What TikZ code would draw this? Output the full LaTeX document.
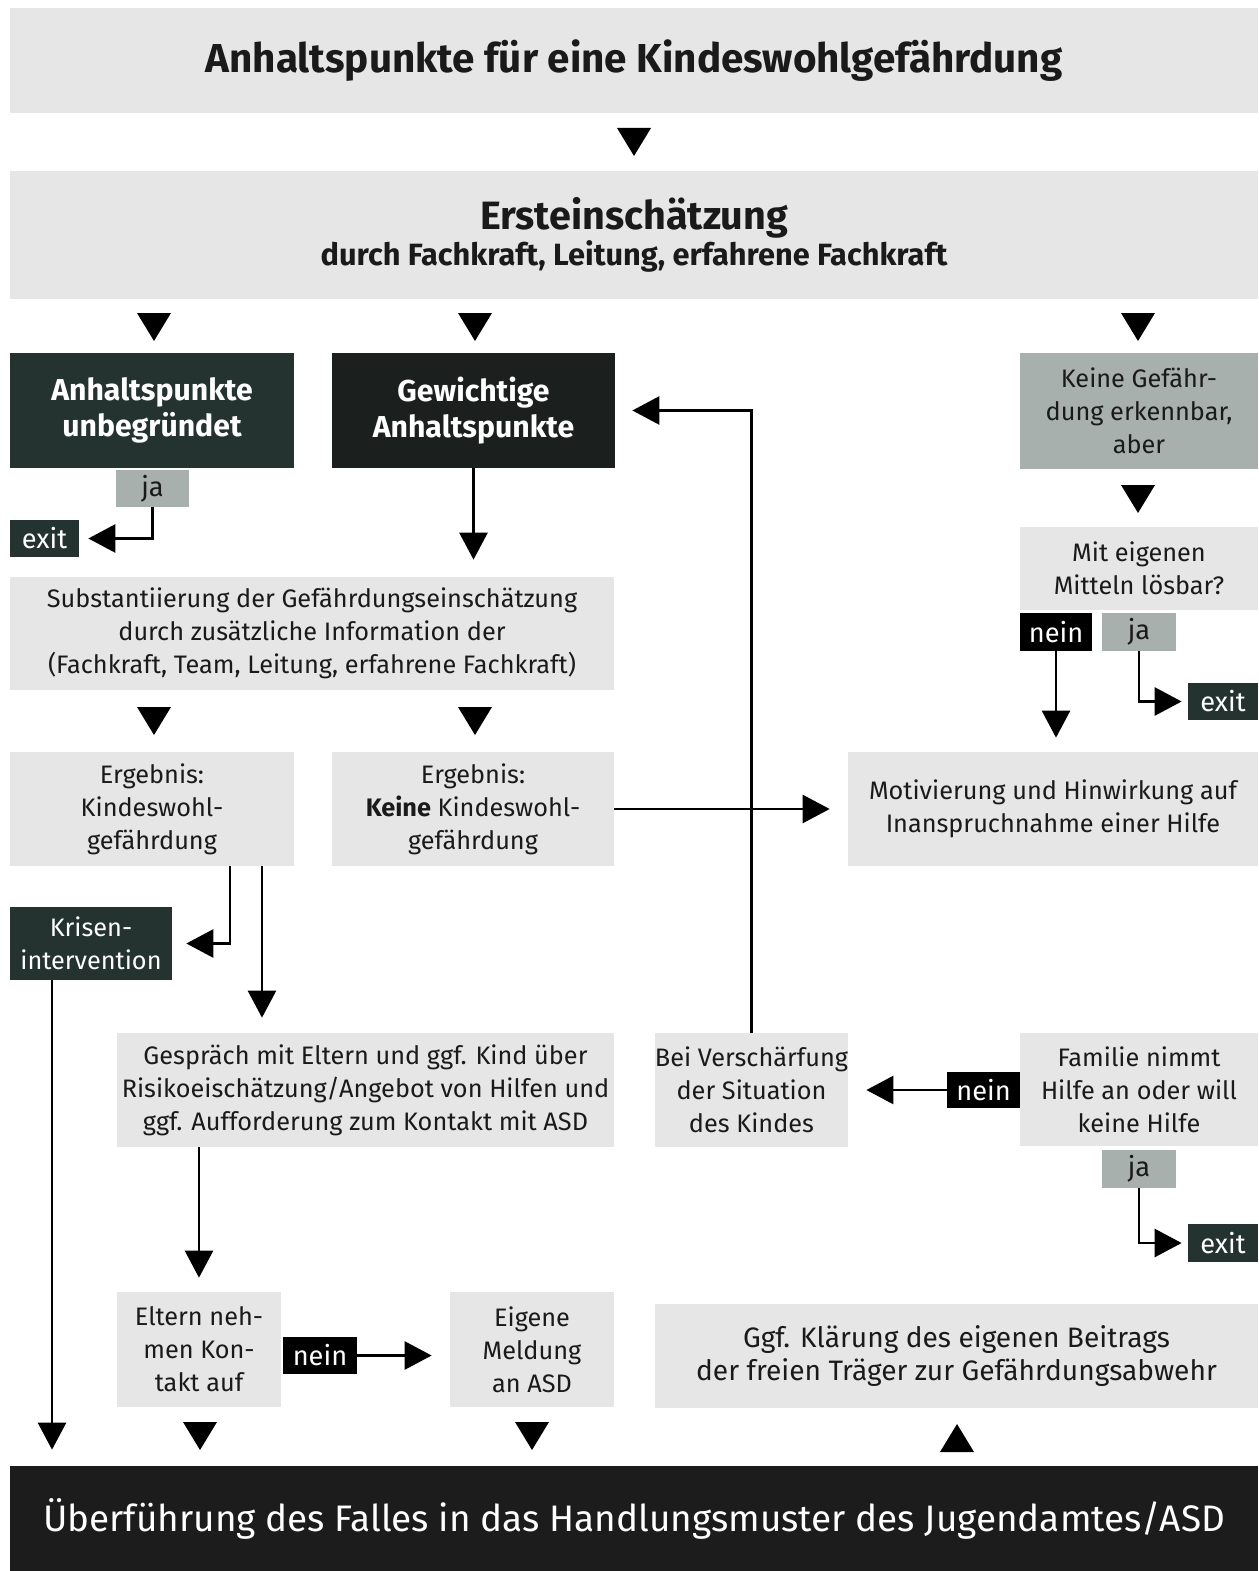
\documentclass[tikz,border=0pt]{standalone}
\usepackage{fontspec}
\setmainfont{Fira Sans}
\usetikzlibrary{arrows.meta}
\definecolor{lite}{HTML}{E6E6E6}
\definecolor{midgray}{HTML}{A8B0AD}
\definecolor{dgreen}{HTML}{24332F}
\definecolor{nearblack}{HTML}{1B1F1E}
\definecolor{txt}{HTML}{1A1A1A}
\newcommand{\bodyfont}{\fontsize{14.4}{18.7}\selectfont}
\newcommand{\headfont}{\bfseries\fontsize{17.2}{20.4}\selectfont}
\newcommand{\tagfont}{\fontsize{15.5}{17}\selectfont}
\def\downtri(#1,#2){\fill[black] (#1-17,#2) -- (#1+17,#2) -- (#1,#2+28) -- cycle;}
\def\uptri(#1,#2){\fill[black] (#1-17,#2+28) -- (#1+17,#2+28) -- (#1,#2) -- cycle;}
\tikzset{
	sz/.style 2 args={minimum width=#1*0.02cm, minimum height=#2*0.02cm, inner sep=0pt, align=center},
	litebox/.style={fill=lite, text=txt, font=\bodyfont},
	greybox/.style={fill=midgray, text=txt, font=\bodyfont},
	darkbox/.style={fill=dgreen, text=white, font=\headfont},
	tagdark/.style={fill=black, text=white, font=\tagfont},
	tagexit/.style={fill=dgreen, text=white, font=\tagfont},
	taggrey/.style={fill=midgray, text=txt, font=\tagfont},
	arr/.style={line width=1.5pt, -{Triangle[width=0.56cm,length=0.54cm]}}
}

\begin{document}
\begin{tikzpicture}[x=0.02cm,y=-0.02cm]
		%%%%% START %%%%%
		\useasboundingbox[fill=white] (0,0) rectangle (1258,1571);
		
		\node[sz={1248}{105}, fill=lite, text=txt, font=\bfseries\fontsize{23}{27}\selectfont] (anhalt) at (634,60.5) {Anhaltspunkte für eine Kindeswohlgefährdung};
		\downtri(634,128)
		
		\node[sz={1248}{127}, fill=lite, text=txt] (erst) at (634,235) {\bfseries\fontsize{22.5}{28}\selectfont Ersteinschätzung\\\bfseries\fontsize{17.5}{22}\selectfont durch Fachkraft, Leitung, erfahrene Fachkraft};
		\downtri(154,313)
		\downtri(475,313)
		\downtri(1138,313)
		
		\node[sz={284}{115}, darkbox] (unbeg) at (152,410.5) {Anhaltspunkte\\unbegründet};
		\node[sz={283}{115}, darkbox, fill=nearblack] (gewicht) at (473.5,410.5) {Gewichtige\\Anhaltspunkte};
		\node[sz={238}{116}, greybox] (keine) at (1139,411) {Keine Gefähr-\\dung erkennbar,\\aber};
		
		\node[sz={73}{37}, taggrey] (ja1) at (152.5,488.5) {ja};
		\node[sz={69}{37}, tagexit] (exit1) at (44.5,538.5) {exit};
		\draw[arr, shorten >=0.18cm] (ja1.south) |- (exit1.east);
		
		\downtri(1138,485)
		\node[sz={238}{83}, litebox] (mittel) at (1139,568.5) {Mit eigenen\\Mitteln lösbar?};
		\node[sz={72}{38}, tagdark] (nein1) at (1056,632) {nein};
		\node[sz={74}{38}, taggrey] (ja2) at (1139,632) {ja};
		\node[sz={70}{37}, tagexit] (exit2) at (1223,701.5) {exit};
		\draw[arr, shorten >=0.12cm] (ja2.south) |- (exit2.west);
		
		\node[sz={604}{113}, litebox] (subst) at (312,633.5) {Substantiierung der Gefährdungseinschätzung\\durch zusätzliche Information der\\(Fachkraft, Team, Leitung, erfahrene Fachkraft)};
		\draw[arr, shorten >=0.34cm] (gewicht.south) -- (gewicht.south |- subst.north);
		\downtri(154,707)
		\downtri(475,707)
		
		\node[sz={284}{114}, litebox] (erg1) at (152,809) {Ergebnis:\\Kindeswohl-\\gefährdung};
		\node[sz={282}{114}, litebox] (erg2) at (473,809) {Ergebnis:\\\textbf{Keine} Kindeswohl-\\gefährdung};
		\node[sz={410}{114}, litebox] (motiv) at (1053,809) {Motivierung und Hinwirkung auf\\Inanspruchnahme einer Hilfe};
		\draw[arr, shorten >=0.36cm] (erg2.east) -- (motiv.west);
		\draw[arr, shorten >=0.28cm] (nein1.south) -- (nein1.south |- motiv.north);
		
		\node[sz={162}{73}, darkbox, font=\bodyfont] (krise) at (91,943.5) {Krisen-\\intervention};
		\draw[arr, shorten >=0.28cm] ([xshift=1.56cm]erg1.south) |- (krise.east);
		
		\node[sz={497}{114}, litebox] (gespr) at (365.5,1090) {Gespräch mit Eltern und ggf. Kind über\\Risikoeischätzung/Angebot von Hilfen und\\ggf. Aufforderung zum Kontakt mit ASD};
		\node[sz={193}{114}, litebox] (versch) at (751.5,1090) {Bei Verschärfung\\der Situation\\des Kindes};
		\node[sz={238}{113}, litebox] (familie) at (1139,1089.5) {Familie nimmt\\Hilfe an oder will\\keine Hilfe};
		\draw[arr, shorten >=0.3cm] ([xshift=2.2cm]erg1.south) -- ([xshift=2.2cm]erg1.south |- gespr.north);
		\draw[arr, shorten >=0.34cm] (versch.north) |- (gewicht.east);
		
		\node[sz={73}{36}, tagdark] (nein2) at (983.5,1090) {nein};
		\draw[arr, shorten >=0.36cm] (nein2.west) -- (versch.east);
		\node[sz={74}{38}, taggrey] (ja3) at (1139,1169) {ja};
		\node[sz={70}{38}, tagexit] (exit3) at (1223,1243) {exit};
		\draw[arr, shorten >=0.12cm] (ja3.south) |- (exit3.west);
		
		\node[sz={164}{115}, litebox] (eltern) at (199,1349.5) {Eltern neh-\\men Kon-\\takt auf};
		\node[sz={74}{37}, tagdark] (nein3) at (320,1355.5) {nein};
		\node[sz={164}{115}, litebox] (meldung) at (532,1349.5) {Eigene\\Meldung\\an ASD};
		\node[sz={603}{104}, litebox, font=\fontsize{16}{18.7}\selectfont] (klaer) at (956.5,1356) {Ggf. Klärung des eigenen Beitrags\\der freien Träger zur Gefährdungsabwehr};
		\draw[arr, shorten >=0.28cm] (eltern.north |- gespr.south) -- (eltern.north);
		\draw[arr, shorten >=0.36cm] (nein3.east) -- (nein3.east -| meldung.west);
		
		\node[sz={1248}{105}, fill=black!89, text=white, font=\fontsize{21}{25}\selectfont] (ueber) at (634,1518.5) {Überführung des Falles in das Handlungsmuster des Jugendamtes/ASD};
		\draw[arr, shorten >=0.32cm] ([xshift=-0.78cm]krise.south) -- ([xshift=-0.78cm]krise.south |- ueber.north);
		\downtri(200,1422)
		\downtri(532,1422)
		\uptri(957,1424)
		
		%%%%% END %%%%%
\end{tikzpicture}
\end{document}
